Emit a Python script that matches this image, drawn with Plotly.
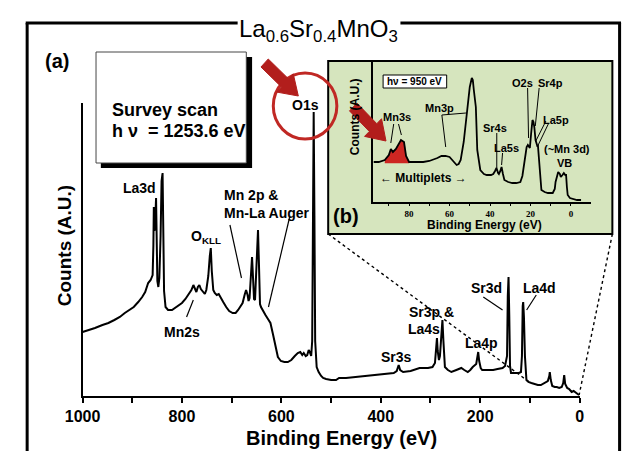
import numpy as np
import plotly.graph_objects as go

# ---------------------------------------------------------------------------
# Survey spectrum, hv = 1253.6 eV  (binding energy in eV, counts in a.u.)
# ---------------------------------------------------------------------------
main_ev = [
    1000, 985, 975, 960, 948, 936, 925, 915, 905, 897, 888, 880, 874, 868, 863, 859,
    857.5, 856.6, 855.5, 854, 852.1, 851, 849.5, 847.5, 845.5, 843, 841, 839, 837.5,
    836, 833, 828, 820, 812, 805, 800, 793, 787, 781, 777, 774, 771, 768, 765, 762,
    758, 754, 751, 747, 744, 742, 740, 737, 734, 730, 726, 723, 717, 711, 705, 698,
    692, 687, 682, 678, 674, 671, 668, 666, 664, 661, 659, 657, 655, 653, 651, 649,
    647, 645, 643, 641, 637, 632, 627, 622, 617, 612, 607, 601, 594, 587, 580, 573,
    567, 562, 558, 555, 551, 548, 545, 543, 540, 538, 536.5, 535, 533.5, 532, 529,
    525, 520, 516, 510, 500, 490, 484, 470, 451, 435, 418, 400, 388, 374, 368, 364,
    361, 355, 340, 322, 305, 296, 291, 288, 287, 285.5, 283, 281, 278, 276, 274, 271,
    265, 258, 248, 238, 232, 225, 220, 215, 208, 205, 204, 202, 199, 196, 185, 174,
    165, 155, 150, 146, 144.5, 143, 141.5, 140, 138, 130, 122, 118, 116, 114.5, 113.5,
    112, 110, 107, 103, 97, 90, 84, 78, 70, 64, 61, 60, 58, 55, 50, 46, 41, 36, 33,
    31, 29, 25, 21, 16, 12, 8, 4, 1,
]
main_counts = [
    64, 66, 68, 71, 73, 76, 79, 83, 86, 89, 94, 99, 104, 113, 116, 121,
    150, 189, 165, 172, 198, 150, 115, 109, 118, 160, 215, 223, 170,
    105, 89, 86, 86, 89, 91, 93, 97, 101, 106, 111, 107, 104, 109, 111, 107,
    104, 102, 106, 120, 140, 148, 125, 106, 103, 101, 102, 99, 94, 89, 85, 83,
    83, 86, 90, 93, 101, 106, 101, 95, 98, 125, 139, 118, 97, 96, 120, 158,
    166, 130, 92, 89, 85, 81, 77, 73, 62, 50, 39, 35, 34, 34, 36, 40,
    43, 44, 41, 43, 40, 41, 46, 44, 40, 55, 150, 284, 180, 55, 29,
    24, 20, 18, 17, 16, 16, 18, 18, 19, 20, 21, 22, 23, 23, 25, 31,
    26, 24, 25, 28, 28, 29, 33, 50, 58, 45, 36, 40, 62, 76, 55, 29,
    26, 24, 26, 28, 26, 24, 26, 29, 32, 40, 44, 35, 28, 26, 26, 26,
    27, 28, 30, 40, 100, 119, 80, 30, 23, 23, 23, 24, 40, 90, 94,
    79, 40, 16, 14, 13, 12, 11, 11, 13, 15, 20, 24, 16, 10, 9, 9, 8, 9, 13,
    21, 12, 8, 7, 4, 5, 3, 2, 1,
]
main_tick_vals = [1000, 800, 600, 400, 200, 0]
main_tick_text = ["1000", "800", "600", "400", "200", "0"]
main_minor_vals = [900, 700, 500, 300, 100]

# ---------------------------------------------------------------------------
# Valence / shallow core region, hv = 950 eV
# ---------------------------------------------------------------------------
inset_ev = [
    97.6, 95, 92, 90, 89, 88, 86.5, 85, 84, 82.5, 81.5, 80, 77, 73, 70, 68.5, 66,
    64, 62, 60, 58, 56.5, 55.5, 54.5, 53, 52, 51, 50, 49, 48.5, 48, 47, 46.3, 45.5,
    44.8, 43, 41.6, 39.5, 38.4, 37.5, 36.8, 36, 35.6, 34.9, 34.3, 33.6, 32.9, 31,
    29, 27, 25, 24, 23.3, 22.5, 21.9, 21.3, 20.8, 20.3, 19.7, 19, 18.5, 18.1, 17.5,
    17, 16.6, 16.3, 15.8, 15.4, 14.6, 13, 11.4, 9, 8, 7.6, 6.8, 6.3, 5.5, 5, 4.2,
    3.5, 2.8, 2.4, 2, 1.6, 0.5, -1, -3, -5,
]
inset_counts = [
    40, 40, 42, 47, 53, 50, 53, 58, 62, 60, 46, 40, 40, 40, 41, 42, 44,
    46, 46, 45, 41, 37, 38, 42, 60, 80, 99, 115, 124, 122, 112, 95, 52, 38,
    32, 28, 27, 27, 28, 31, 34, 29, 28, 31, 35, 28, 22, 20,
    19, 19, 20, 26, 35, 48, 55, 57, 56, 54, 68, 82, 80, 75, 62,
    57, 56, 56, 44, 32, 12, 10, 9, 9, 13, 20, 27, 30, 28, 25, 27,
    29, 27, 27, 15, 7, 4, 3, 2, 2,
]
inset_tick_vals = [80, 60, 40, 20, 0]
inset_tick_text = ["80", "60", "40", "20", "0"]
inset_minor_vals = [90, 70, 50, 30, 10]
mn3s_window = (80, 92)

# ---------------------------------------------------------------------------
W, H = 627, 451
SANS = "Liberation Sans, Arial, sans-serif"
SERIF = "Liberation Serif, Times New Roman, serif"
RED = "rgb(178,30,28)"
FILL_RED = "rgb(205,38,34)"
GREEN = "rgb(214,229,190)"

# plot-area placement (pixels)
MX0, MX1, MY0, MY1 = 67, 583, 396, 103
MAIN_XR, MAIN_YR = [1000, 0], [0, 293]
IX0, IX1, IY0, IY1 = 369, 595, 202, 62
INSET_XR, INSET_YR = [97.6, -10], [0, 140]
INSET_BOX = (322, 61, 617, 234)


def fx(x):
    return x / W


def fy(y):
    return 1 - y / H


def main_to_px(ev, c):
    x = MX0 + (MAIN_XR[0] - ev) / (MAIN_XR[0] - MAIN_XR[1]) * (MX1 - MX0)
    y = MY0 - (c - MAIN_YR[0]) / (MAIN_YR[1] - MAIN_YR[0]) * (MY0 - MY1)
    return x, y


fig = go.Figure()

# Mn 3s multiplet highlighted in red
ev_arr = np.array(inset_ev)
ct_arr = np.array(inset_counts)
sel = (ev_arr >= mn3s_window[0]) & (ev_arr <= mn3s_window[1])
base = ct_arr[sel].min()
fill_x = list(ev_arr[sel]) + [ev_arr[sel][-1], ev_arr[sel][0]]
fill_y = list(ct_arr[sel]) + [base - 1, base - 1]
fig.add_trace(go.Scatter(x=fill_x, y=fill_y, mode="lines", fill="toself",
                         fillcolor=FILL_RED, line=dict(width=0.5, color=FILL_RED),
                         xaxis="x2", yaxis="y2", hoverinfo="skip", showlegend=False))

fig.add_trace(go.Scatter(x=main_ev, y=main_counts, mode="lines",
                         line=dict(color="black", width=2),
                         hoverinfo="skip", showlegend=False))
fig.add_trace(go.Scatter(x=inset_ev, y=inset_counts, mode="lines",
                         line=dict(color="black", width=1.8),
                         xaxis="x2", yaxis="y2", hoverinfo="skip", showlegend=False))

shapes = []


def seg(x0, y0, x1, y1, width=1.2, color="black", dash=None, layer="above"):
    d = dict(type="line", xref="paper", yref="paper",
             x0=fx(x0), y0=fy(y0), x1=fx(x1), y1=fy(y1),
             line=dict(color=color, width=width), layer=layer)
    if dash:
        d["line"]["dash"] = dash
    shapes.append(d)


def rect(x0, y0, x1, y1, fill, line_color=None, line_width=0, layer="above"):
    shapes.append(dict(type="rect", xref="paper", yref="paper",
                       x0=fx(x0), y0=fy(y0), x1=fx(x1), y1=fy(y1),
                       fillcolor=fill, layer=layer,
                       line=dict(color=line_color or fill, width=line_width)))


def block_arrow(x0, y0, x1, y1, shaft=11, head=25, head_len=19, color=RED):
    d = np.array([x1 - x0, y1 - y0], float)
    L = np.hypot(*d)
    d /= L
    n = np.array([-d[1], d[0]])
    p0 = np.array([x0, y0], float)
    neck = p0 + d * (L - head_len)
    pts = [p0 + n * shaft / 2, neck + n * shaft / 2, neck + n * head / 2,
           np.array([x1, y1], float), neck - n * head / 2, neck - n * shaft / 2,
           p0 - n * shaft / 2]
    path = "M " + " L ".join(f"{fx(p[0]):.5f},{fy(p[1]):.5f}" for p in pts) + " Z"
    shapes.append(dict(type="path", xref="paper", yref="paper", path=path,
                       fillcolor=color, line=dict(color=color, width=1), layer="above"))


# outer frame, broken by the title
seg(9.5, 23, 9.5, 460, width=3)
seg(8, 23, 228, 23, width=3)
seg(397, 23, 626, 23, width=3)
seg(624.5, 23, 624.5, 460, width=3)

# inset panel
rect(*INSET_BOX, fill=GREEN, line_color="black", line_width=2, layer="below")

# zoom guides from the inset corners down to the 0-100 eV part of the survey
ev100 = 100
c100 = float(np.interp(ev100, main_ev[::-1], main_counts[::-1]))
gx, gy = main_to_px(ev100, c100)
seg(INSET_BOX[0], INSET_BOX[3], gx, gy, width=1.4, dash="dot")
gx0, gy0 = main_to_px(main_ev[-1], main_counts[-1])
seg(INSET_BOX[2], INSET_BOX[3], gx0, gy0, width=1.4, dash="dot")

# survey-scan caption box with drop shadow
rect(86, 57, 243, 168, fill="black")
rect(81, 52, 237, 163, fill="white", line_color="rgb(70,70,70)", line_width=1)

# hv box inside the inset
rect(379, 75, 445, 88, fill="white", line_color="black", line_width=1)

# O1s highlight circle
shapes.append(dict(type="circle", xref="paper", yref="paper",
                   x0=fx(265), x1=fx(331), y0=fy(139), y1=fy(73),
                   line=dict(color="rgb(192,40,36)", width=3), layer="above"))

# red pointer arrows
block_arrow(256, 63, 291, 96)
block_arrow(348, 107, 382, 141)

# leader lines – survey
seg(175, 317, 182, 300)            # Mn2s
seg(220, 225, 232, 278)            # Mn 2p
seg(282, 217, 260, 307)            # Mn-La Auger
seg(483, 297, 503, 310)            # Sr3d
seg(538, 295, 528, 310)            # La4d
# leader lines – inset
seg(390, 124, 387, 143, width=1)
seg(395, 124, 398, 135, width=1)
seg(440, 115, 465, 113, width=1)
seg(440, 115, 444, 147, width=1)
seg(497, 133, 497, 168, width=1)
seg(503, 153, 502, 165, width=1)
seg(529, 88, 530, 138, width=1)
seg(541, 88, 537, 126, width=1)
seg(548, 121, 537, 142, width=1)
seg(551, 123, 539, 147, width=1)

annotations = []


def label(text, x, y, size=14, xanchor="center", angle=0, family=SANS,
          weight="bold", color="black"):
    annotations.append(dict(text=text, x=fx(x), y=fy(y), xref="paper", yref="paper",
                            showarrow=False, xanchor=xanchor, yanchor="middle",
                            textangle=angle,
                            font=dict(family=family, size=size, color=color,
                                      weight=weight)))


label("La<sub>0.6</sub>Sr<sub>0.4</sub>MnO<sub>3</sub>", 312, 30, size=24, weight="normal")
label("(a)", 40, 61, size=20)
label("(b)", 341, 216, size=20)
label("Survey scan", 95, 110, size=18, xanchor="left")
label("h\u00a0\u03bd\u00a0\u00a0= 1253.6 eV", 95, 131, size=18, xanchor="left")

label("Binding Energy (eV)", 336, 438, size=20)
label("Counts (A.U.)", 49, 246, size=19, angle=-90)

label("La3d", 126, 188)
label("O<sub>KLL</sub>", 195, 237)
label("Mn2s", 170, 332)
label("Mn 2p &", 212, 195, xanchor="left")
label("Mn-La Auger", 212, 213, xanchor="left")
label("O1s", 298, 105)
label("Sr3s", 393, 357)
label("Sr3p &", 404, 312, xanchor="left")
label("La4s", 403, 329, xanchor="left")
label("La4p", 481, 343)
label("Sr3d", 486, 288)
label("La4d", 541, 288)

label("h\u03bd = 950 eV", 412, 81.5, size=10)
label("Mn3s", 393, 117, size=11)
label("Mn3p", 438, 108, size=11)
label("Sr4s", 495, 128, size=11)
label("La5s", 507, 148, size=11)
label("O2s", 524, 83, size=11)
label("Sr4p", 553, 83, size=11)
label("La5p", 558, 120, size=11)
label("(~Mn 3d)", 570, 149, size=11)
label("VB", 567, 163, size=11)
label("\u2190 Multiplets \u2192", 421, 178, size=12)
label("Binding Energy (eV)", 484, 225, size=12)
label("Counts (A.U.)", 350, 117, size=12, angle=-90)

fig.update_layout(
    width=W, height=H, autosize=False,
    margin=dict(l=0, r=0, t=0, b=0),
    paper_bgcolor="white", plot_bgcolor="rgba(0,0,0,0)",
    showlegend=False,
    xaxis=dict(domain=[fx(MX0), fx(MX1)], range=MAIN_XR, anchor="y",
               showline=True, linecolor="black", linewidth=2,
               ticks="outside", ticklen=5, tickwidth=2, tickcolor="black",
               tickmode="array", tickvals=main_tick_vals, ticktext=main_tick_text,
               tickfont=dict(family=SANS, size=16, color="black", weight="bold"),
               minor=dict(tickmode="array", tickvals=main_minor_vals, ticks="outside",
                          ticklen=5, tickwidth=2, tickcolor="black", showgrid=False),
               showgrid=False, zeroline=False),
    yaxis=dict(domain=[fy(MY0), fy(MY1)], range=MAIN_YR, anchor="x",
               showline=True, linecolor="black", linewidth=2,
               showticklabels=False, ticks="", showgrid=False, zeroline=False),
    xaxis2=dict(domain=[fx(IX0), fx(IX1)], range=INSET_XR, anchor="y2",
                showline=True, linecolor="black", linewidth=1.5,
                ticks="outside", ticklen=2, tickwidth=1, tickcolor="black",
                tickmode="array", tickvals=inset_tick_vals, ticktext=inset_tick_text,
                tickfont=dict(family=SERIF, size=9, color="black", weight="bold"),
                minor=dict(tickmode="array", tickvals=inset_minor_vals, ticks="outside",
                           ticklen=2, tickwidth=1, tickcolor="black", showgrid=False),
                showgrid=False, zeroline=False),
    yaxis2=dict(domain=[fy(IY0), fy(IY1)], range=INSET_YR, anchor="x2",
                showline=True, linecolor="black", linewidth=1.5,
                showticklabels=False, ticks="", showgrid=False, zeroline=False),
    shapes=shapes,
    annotations=annotations,
)

fig.write_html("out.html")
